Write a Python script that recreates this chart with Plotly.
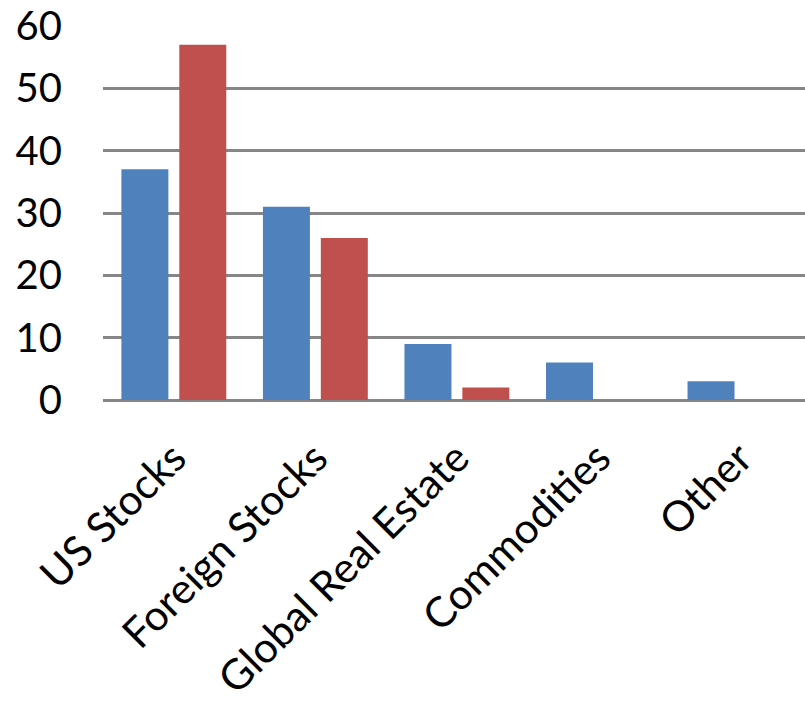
import plotly.graph_objects as go

categories = ["US Stocks", "Foreign Stocks", "Global Real Estate", "Commodities", "Other"]
series_a = [37, 31, 9, 6, 3]
series_b = [57, 26, 2, 0, 0]
y_ticks = [0, 10, 20, 30, 40, 50, 60]

fig = go.Figure()
fig.add_trace(go.Bar(x=categories, y=series_a, marker=dict(color="#4F81BD", line=dict(width=0)),
                     width=0.332, offset=-0.37))
fig.add_trace(go.Bar(x=categories, y=series_b, marker=dict(color="#C0504D", line=dict(width=0)),
                     width=0.332, offset=0.039))

font = "Lato, 'Open Sans', sans-serif"
fig.update_layout(
    width=805, height=706,
    margin=dict(l=103, r=0, t=26, b=306),
    plot_bgcolor="white", paper_bgcolor="white",
    showlegend=False, barmode="overlay",
    font=dict(family=font, size=40, color="black"),
)
fig.update_xaxes(range=[-0.5, 4.46], tickangle=-45, showgrid=False, showline=False, ticks="",
                 ticklabelstandoff=24, automargin=False, tickfont=dict(size=42))
fig.update_yaxes(range=[0, 60], tickvals=y_ticks, showgrid=True, gridcolor="#868686", gridwidth=2.5,
                 zeroline=True, zerolinecolor="#868686", zerolinewidth=2.5, showline=False, ticks="",
                 ticklabelstandoff=40, automargin=False, tickfont=dict(size=40))
fig.write_html("out.html")
